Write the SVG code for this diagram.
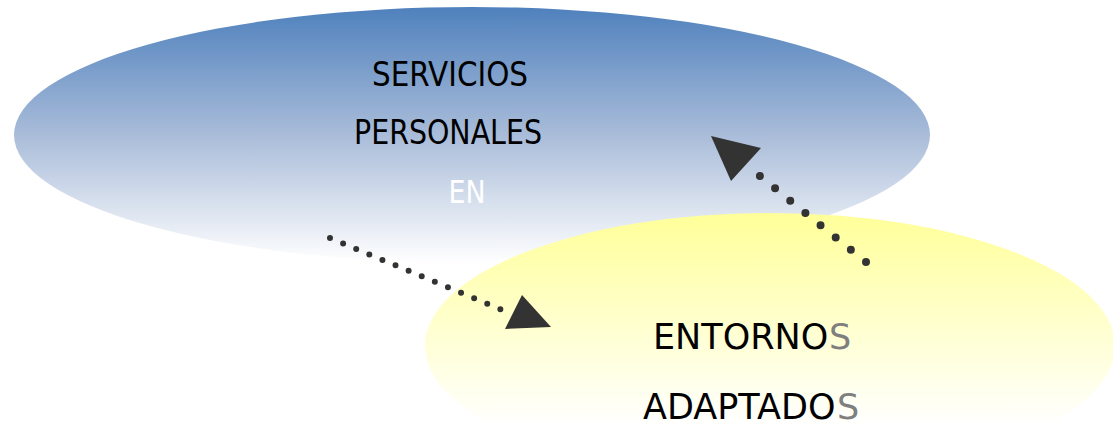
<svg xmlns="http://www.w3.org/2000/svg" width="1113" height="430" viewBox="0 0 1113 430">
<style>
.t{font-family:"DejaVu Sans","Noto Sans",sans-serif;fill:#000;text-anchor:middle}
.s{text-anchor:start}
.g{fill:#7f7f7f}
.dot{fill:none;stroke:#333333;stroke-linecap:round}
.head{fill:#333333}
</style>
<defs>
<linearGradient id="gb" x1="0" y1="0" x2="0" y2="1">
<stop offset="0" stop-color="#4f81bd"/>
<stop offset="0.5" stop-color="#a9bcd9"/>
<stop offset="1" stop-color="#ffffff"/>
</linearGradient>
<linearGradient id="gy" x1="0" y1="0" x2="0" y2="1">
<stop offset="0" stop-color="#ffff99"/>
<stop offset="0.8" stop-color="#ffffff"/>
</linearGradient>
</defs>
<rect width="1113" height="430" fill="#ffffff"/>
<g id="servicios">
<ellipse cx="472" cy="135" rx="458" ry="128" fill="url(#gb)"/>
<text class="t" x="450" y="86" font-size="33" textLength="156" lengthAdjust="spacingAndGlyphs">SERVICIOS</text>
<text class="t" x="448" y="144" font-size="33" textLength="188" lengthAdjust="spacingAndGlyphs">PERSONALES</text>
<text class="t" x="467" y="203" font-size="32" style="fill:#ffffff" textLength="37" lengthAdjust="spacingAndGlyphs">EN</text>
</g>
<g id="entornos">
<ellipse cx="770" cy="346" rx="345" ry="133" fill="url(#gy)"/>
<text class="t s" x="653" y="349" font-size="35">ENTORNO</text>
<text class="t s g" x="829" y="349" font-size="35">S</text>
<text class="t s" x="643" y="419" font-size="35">ADAPTADO</text>
<text class="t s g" x="837" y="419" font-size="35">S</text>
</g>
<g id="connectors">
<path class="dot" d="M330 238 L512 314" stroke-width="6" stroke-dasharray="0 14.2"/>
<polygon class="head" points="505,329 522,295 551,327"/>
<path class="dot" d="M866 262 L745 164" stroke-width="8" stroke-dasharray="0 19.5"/>
<polygon class="head" points="711,136 761,148 731,181"/>
</g>
</svg>
